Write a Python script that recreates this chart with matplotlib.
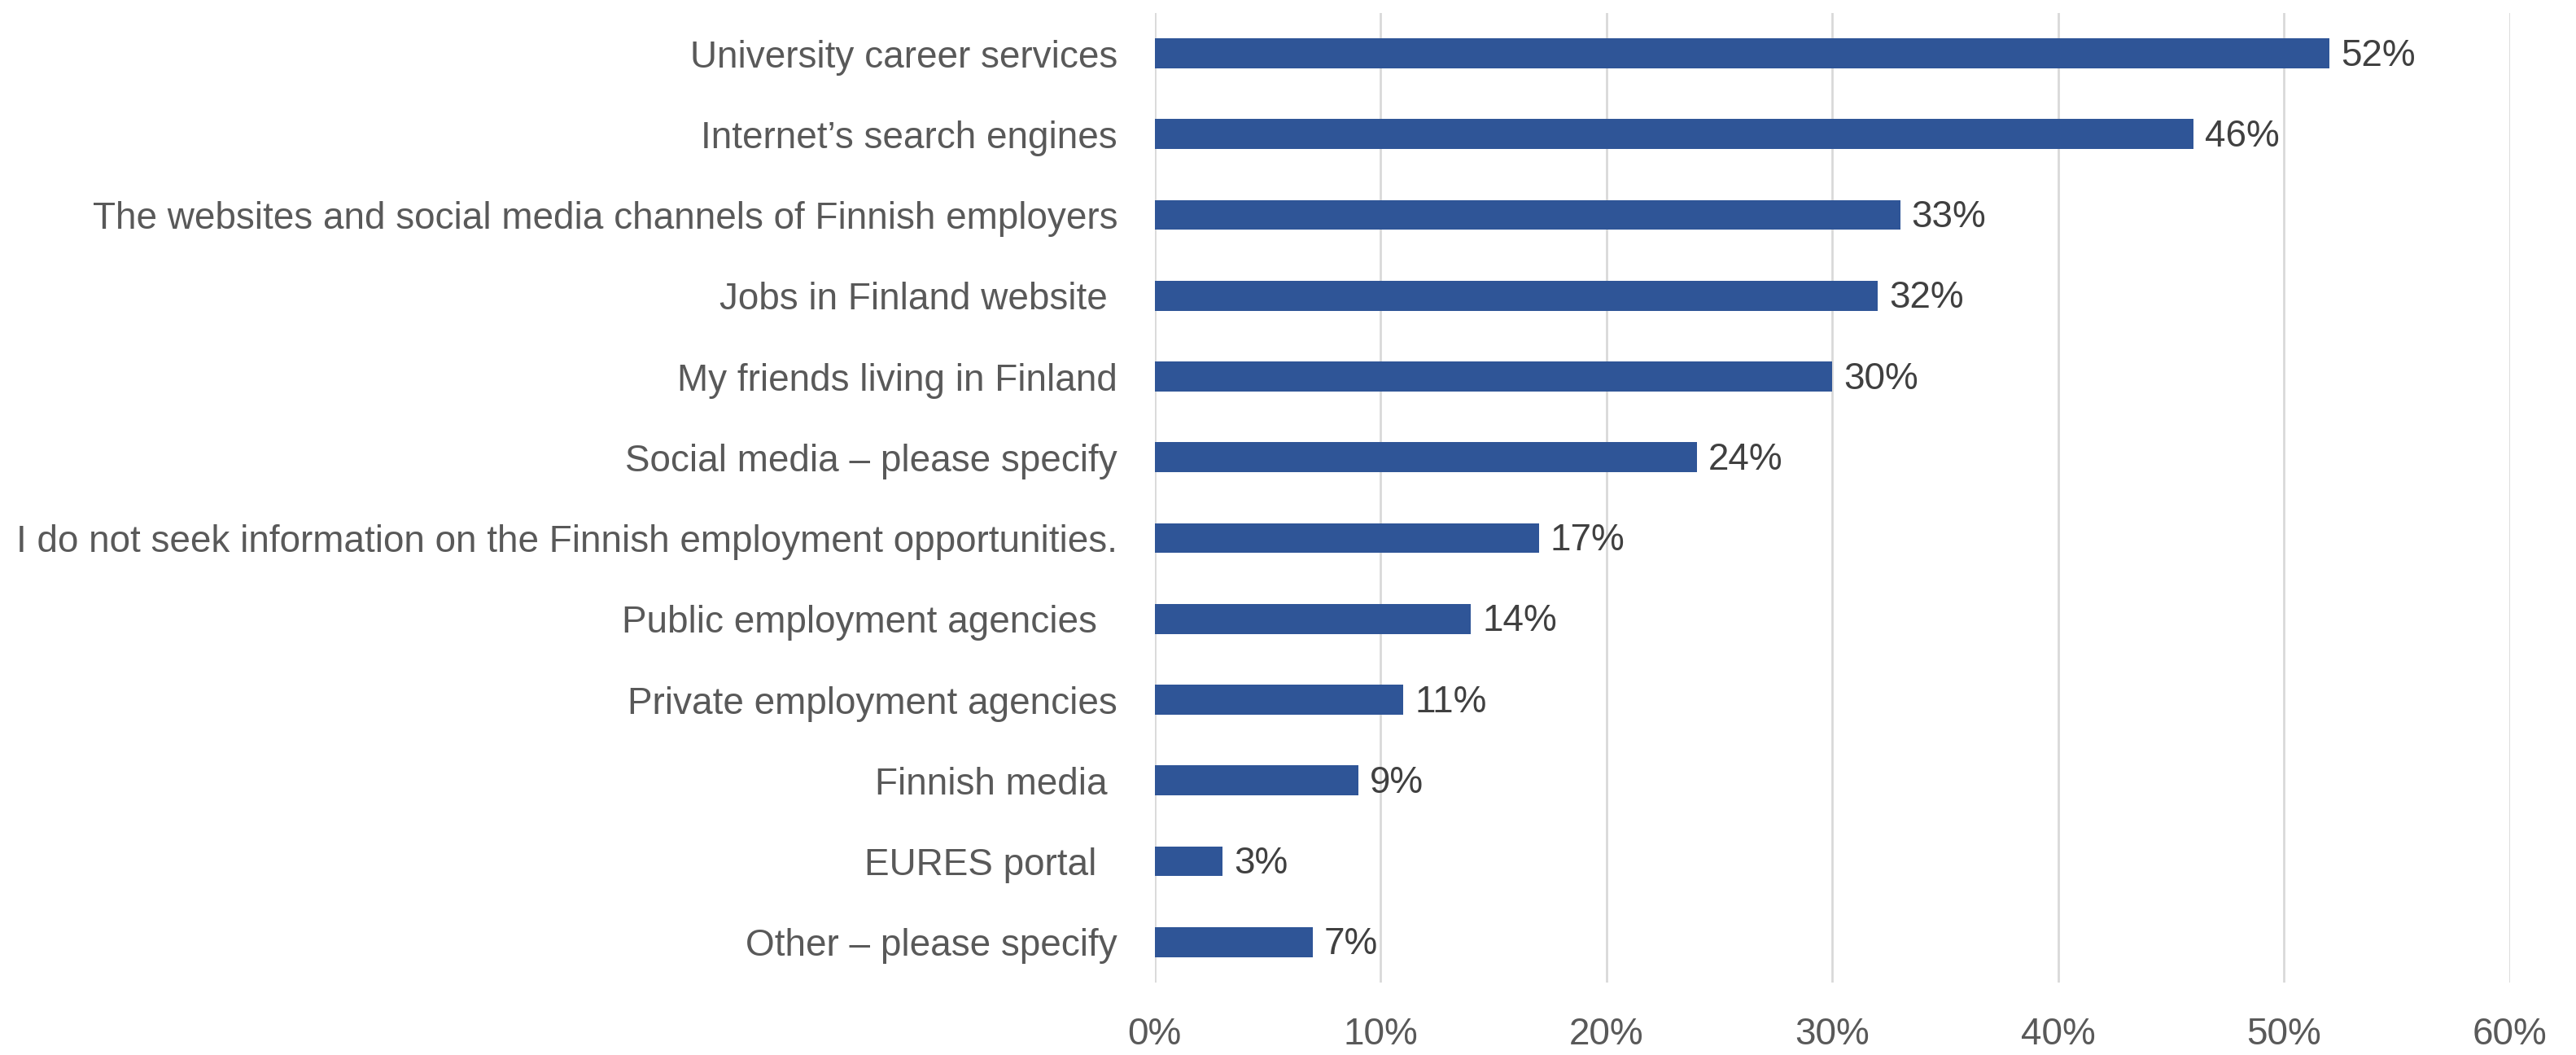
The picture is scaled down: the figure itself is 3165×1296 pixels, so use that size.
import matplotlib.pyplot as plt
from matplotlib.ticker import FuncFormatter

categories = [
    "University career services",
    "Internet\u2019s search engines",
    "The websites and social media channels of Finnish employers",
    "Jobs in Finland website ",
    "My friends living in Finland",
    "Social media \u2013 please specify",
    "I do not seek information on the Finnish employment opportunities.",
    "Public employment agencies  ",
    "Private employment agencies",
    "Finnish media ",
    "EURES portal  ",
    "Other \u2013 please specify",
]
shares = [52, 46, 33, 32, 30, 24, 17, 14, 11, 9, 3, 7]
x_ticks = [0, 10, 20, 30, 40, 50, 60]

plt.rcParams['font.family'] = ['Liberation Sans', 'DejaVu Sans']

fig = plt.figure(figsize=(31.65, 12.96), dpi=100)
ax = fig.add_axes([0.4483, 0.0687, 0.5261, 0.919])

pos = list(range(len(categories)))
ax.barh(pos, shares, height=0.37, color="#2F5597", zorder=3)

for y, v in zip(pos, shares):
    ax.text(v + 0.5, y + 0.03, f"{v}%", va="center", ha="left",
            fontsize=33, color="#404040")

ax.set_xlim(0, 60)
ax.set_ylim(len(categories) - 0.5, -0.5)
ax.set_xticks(x_ticks)
ax.xaxis.set_major_formatter(FuncFormatter(lambda v, p: f"{v:.0f}%"))
ax.set_yticks(pos)
ax.set_yticklabels(categories)

ax.grid(axis="x", color="#D9D9D9", linewidth=2, zorder=0)
for s in ax.spines.values():
    s.set_visible(False)
ax.tick_params(axis="both", length=0, labelsize=33, labelcolor="#595959")
ax.tick_params(axis="x", pad=30)
ax.tick_params(axis="y", pad=33)

fig.savefig("out.png", dpi=100, facecolor="white")
